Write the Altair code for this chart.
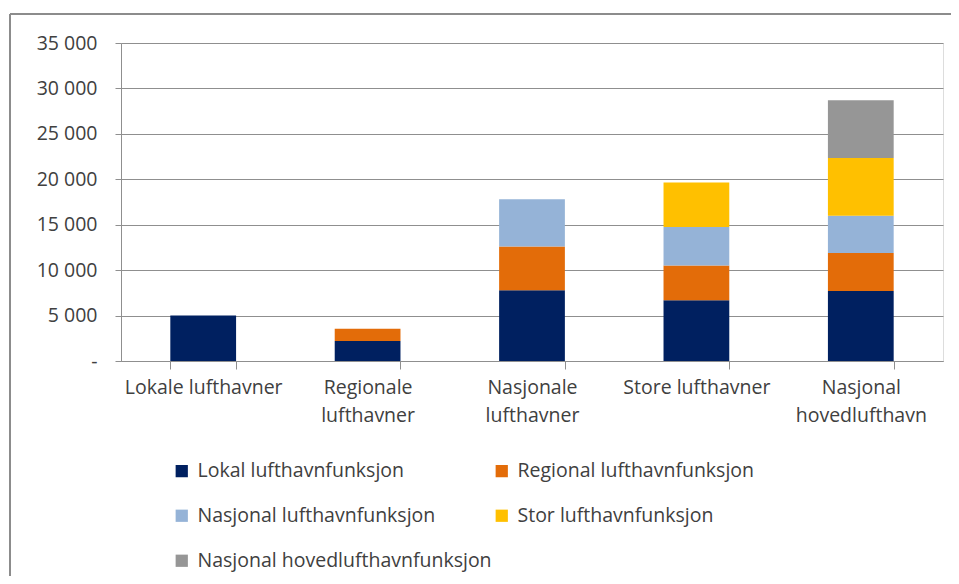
import altair as alt
import pandas as pd

categories = ["Lokale lufthavner", "Regionale lufthavner", "Nasjonale lufthavner",
              "Store lufthavner", "Nasjonal hovedlufthavn"]
series = ["Lokal lufthavnfunksjon", "Regional lufthavnfunksjon", "Nasjonal lufthavnfunksjon",
          "Stor lufthavnfunksjon", "Nasjonal hovedlufthavnfunksjon"]
lokal = [5000, 2200, 7800, 6700, 7700]
regional = [0, 1350, 4800, 3800, 4200]
nasjonal = [0, 0, 5200, 4250, 4100]
stor = [0, 0, 0, 4900, 6350]
hoved = [0, 0, 0, 0, 6350]
colors = ["#002060", "#E36C09", "#95B3D7", "#FFC000", "#969696"]
y_ticks = [0, 5000, 10000, 15000, 20000, 25000, 30000, 35000]

rows = []
for si, vals in enumerate([lokal, regional, nasjonal, stor, hoved]):
    for ci, v in enumerate(vals):
        if v > 0:
            rows.append({"kategori": categories[ci], "serie": series[si], "order": si, "verdi": v})
df = pd.DataFrame(rows)

FONT = "Open Sans"
FS = 19.5
TXT = "#404040"
GRID = "#8f8f8f"

wrap_expr = ("indexof(['Regionale lufthavner','Nasjonale lufthavner','Nasjonal hovedlufthavn'], "
             "datum.label) >= 0 ? split(datum.label, ' ') : datum.label")
y_expr = ("datum.value == 0 ? '-\u00a0\u00a0' : "
          "replace(format(datum.value, ',d'), ',', ' ')")

bars = alt.Chart(df).mark_bar().encode(
    x=alt.X("kategori:N", sort=categories, title=None,
            scale=alt.Scale(paddingInner=0.6, paddingOuter=0.3),
            axis=alt.Axis(labelAngle=0, labelExpr=wrap_expr, labelFont=FONT, labelFontSize=FS,
                          labelColor=TXT, labelPadding=9, labelLineHeight=28,
                          tickBand="extent", tickSize=8, tickColor=GRID, domainColor=GRID,
                          labelLimit=220, grid=False)),
    y=alt.Y("verdi:Q", stack="zero", title=None,
            scale=alt.Scale(domain=[0, 35000], nice=False),
            axis=alt.Axis(values=y_ticks, labelExpr=y_expr, labelFont=FONT, labelFontSize=FS,
                          labelColor=TXT, labelPadding=18, tickSize=6, tickColor=GRID,
                          domainColor=GRID, gridColor=GRID, gridWidth=1.2)),
    color=alt.Color("serie:N", sort=series, title=None,
                    scale=alt.Scale(domain=series, range=colors),
                    legend=alt.Legend(orient="none", legendX=51, legendY=418, columns=2,
                                      direction="horizontal",
                                      symbolType="square", symbolSize=150, symbolStrokeWidth=0,
                                      labelFont=FONT, labelFontSize=FS, labelColor=TXT,
                                      labelOffset=6, rowPadding=24, columnPadding=0,
                                      labelLimit=340)),
    order=alt.Order("order:Q", sort="ascending"),
)

frame_data = alt.Data(values=[{}])
left_line = alt.Chart(frame_data).mark_rule(color="#8c8c8c", strokeWidth=2).encode(
    x=alt.value(-111), y=alt.value(-29), y2=alt.value(600))
top_line = alt.Chart(frame_data).mark_rule(color="#8c8c8c", strokeWidth=2).encode(
    x=alt.value(-111), x2=alt.value(900), y=alt.value(-29))

chart = alt.layer(bars, left_line, top_line).properties(
    width=822, height=318,
    autosize=alt.AutoSizeParams(type="none"),
    padding={"left": 113, "top": 35, "right": 8, "bottom": 215},
).configure_view(stroke=None).configure(background="white")

chart.save("out.html", embed_options={"renderer": "svg", "actions": False})
